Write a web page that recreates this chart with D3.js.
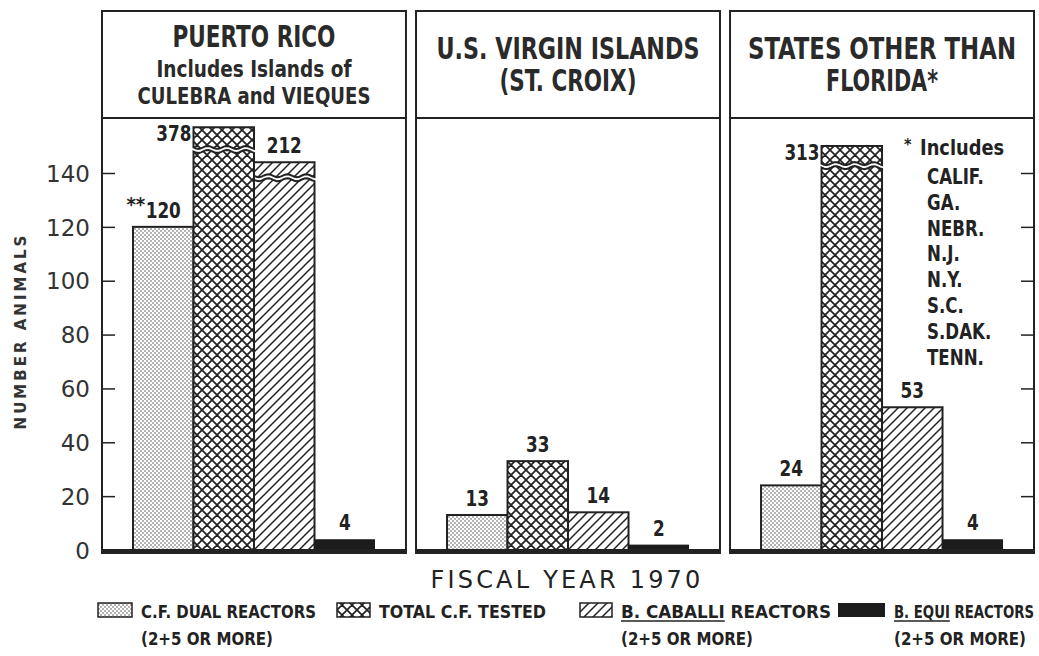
<!DOCTYPE html>
<html>
<head>
<meta charset="utf-8">
<script src="https://cdn.jsdelivr.net/npm/d3@7"></script>
<style>
  body { margin: 0; background: #fff; }
  svg { display: block; }
</style>
</head>
<body>
<div id="canvas"></div>
<script>
// values
const regions = ["PUERTO RICO", "U.S. VIRGIN ISLANDS", "STATES OTHER THAN FLORIDA"];
const series = ["C.F. DUAL REACTORS", "TOTAL C.F. TESTED", "B. CABALLI REACTORS", "B. EQUI REACTORS"];
const puertoRico = [120, 378, 212, 4];
const virginIslands = [13, 33, 14, 2];
const otherStates = [24, 313, 53, 4];
// bars too tall for the axis are cut: main part ends at breakAt, short cap piece goes up to capTop
const breakAt = [[null, 148, 137.5, null], [null, null, null, null], [null, 142, null, null]];
const capTop = [[null, 157, 144, null], [null, null, null, null], [null, 150, null, null]];
const yTicks = [0, 20, 40, 60, 80, 100, 120, 140];
const headerLines = [
  ["PUERTO RICO", "Includes Islands of", "CULEBRA and VIEQUES"],
  ["U.S. VIRGIN ISLANDS", "(ST. CROIX)"],
  ["STATES OTHER THAN", "FLORIDA*"]
];
const includedStates = ["CALIF.", "GA.", "NEBR.", "N.J.", "N.Y.", "S.C.", "S.DAK.", "TENN."];
const legendSub = ["(2+5 OR MORE)", "", "(2+5 OR MORE)", "(2+5 OR MORE)"];
const legendUnderline = ["", "", "B. CABALLI", "B. EQUI"];

const values = [puertoRico, virginIslands, otherStates];

const width = 1039, height = 656;
const ink = "#222";
const narrow = "'DejaVu Sans Condensed', 'DejaVu Sans', sans-serif";
const wide = "'DejaVu Sans', Verdana, sans-serif";

const frameTop = 11, headerBottom = 118;
// text widths measured on the original print
const headerW = [[163, 195, 233], [263, 137], [268, 112]];
const legendW = [175, 167, 210, 140];
const legendSubW = 132;

const svg = d3.select("#canvas").append("svg")
  .attr("width", width).attr("height", height);

function fit(sel, w) {
  return sel.attr("textLength", w).attr("lengthAdjust", "spacingAndGlyphs");
}
function squeeze(sel, f) {
  return fit(sel, sel.node().getComputedTextLength() * f);
}

// fill patterns
const defs = svg.append("defs");
const dots = defs.append("pattern").attr("id", "pat0")
  .attr("patternUnits", "userSpaceOnUse").attr("width", 4).attr("height", 4);
dots.append("rect").attr("width", 4).attr("height", 4).attr("fill", "#fff");
dots.append("circle").attr("cx", 1).attr("cy", 1).attr("r", 0.8).attr("fill", "#555");
dots.append("circle").attr("cx", 3).attr("cy", 3).attr("r", 0.8).attr("fill", "#555");

const cross = defs.append("pattern").attr("id", "pat1")
  .attr("patternUnits", "userSpaceOnUse").attr("width", 10).attr("height", 10);
cross.append("rect").attr("width", 10).attr("height", 10).attr("fill", "#fff");
cross.append("path")
  .attr("d", "M0,0L10,10M10,0L0,10M-5,5L5,15M5,-5L15,5M-5,5L5,-5M5,15L15,5")
  .attr("stroke", ink).attr("stroke-width", 1.7);

const hatch = defs.append("pattern").attr("id", "pat2")
  .attr("patternUnits", "userSpaceOnUse").attr("width", 9).attr("height", 9);
hatch.append("rect").attr("width", 9).attr("height", 9).attr("fill", "#fff");
hatch.append("path")
  .attr("d", "M0,9L9,0M-2,2L2,-2M7,11L11,7")
  .attr("stroke", ink).attr("stroke-width", 1.5);

const fills = ["url(#pat0)", "url(#pat1)", "url(#pat2)", "#1c1c1c"];

// scales
const y = d3.scaleLinear().domain([0, 140]).range([550, 173]);
const px = d3.scaleBand().domain(d3.range(regions.length)).range([102, 1034]).paddingInner(0.032);
const bx = d3.scaleBand().domain(d3.range(series.length)).range([31, 273]);

function wavy(x0, x1, yy, amp) {
  const n = 24;
  return d3.range(n + 1).map(k => {
    const x = x0 + (x1 - x0) * k / n;
    return [x, yy + amp * Math.sin((x - x0) / 9.5 * Math.PI)];
  });
}
const line = d3.line();

regions.forEach((r, p) => {
  const g = svg.append("g").attr("transform", `translate(${px(p)},0)`);
  const pw = px.bandwidth();

  // frame + header
  g.append("rect").attr("x", 0).attr("y", frameTop)
    .attr("width", pw).attr("height", y(0) - frameTop)
    .attr("fill", "none").attr("stroke", ink).attr("stroke-width", 2);
  g.append("line").attr("x1", 0).attr("x2", pw)
    .attr("y1", headerBottom).attr("y2", headerBottom)
    .attr("stroke", ink).attr("stroke-width", 2);

  const lines = headerLines[p];
  const base = lines.length === 3 ? [47, 77, 104] : [59, 91];
  lines.forEach((t, k) => {
    const ht = g.append("text").attr("x", pw / 2).attr("y", base[k])
      .attr("text-anchor", "middle")
      .attr("font-family", narrow).attr("font-weight", "bold")
      .attr("font-size", k === 0 || lines.length === 2 ? 30 : 23)
      .attr("fill", "#2a2a2a").text(t);
    fit(ht, headerW[p][k]);
  });

  // bars
  values[p].forEach((v, i) => {
    const x0 = bx(i), x1 = bx(i) + bx.bandwidth();
    const cut = breakAt[p][i];
    if (cut != null) {
      const top = y(cut);
      const mainPts = [[x0, y(0)], ...wavy(x0, x1, top, 1.5), [x1, y(0)]];
      g.append("path").attr("d", line(mainPts) + "Z")
        .attr("fill", fills[i]).attr("stroke", ink).attr("stroke-width", 2);
      const capPts = [[x0, y(capTop[p][i])], [x1, y(capTop[p][i])], ...wavy(x0, x1, top - 4, 1.5).reverse()];
      g.append("path").attr("d", line(capPts) + "Z")
        .attr("fill", fills[i]).attr("stroke", ink).attr("stroke-width", 2);
    } else {
      g.append("rect").attr("x", x0).attr("y", y(v))
        .attr("width", bx.bandwidth()).attr("height", y(0) - y(v))
        .attr("fill", fills[i]).attr("stroke", ink).attr("stroke-width", i === 3 ? 0 : 2);
    }

    // value labels
    const lab = g.append("text")
      .attr("font-family", narrow).attr("font-weight", "bold")
      .attr("font-size", 22).attr("fill", ink).text(v);
    if (cut != null && i === 1) {
      lab.attr("x", x0 - 2).attr("y", y(capTop[p][i]) + 14).attr("text-anchor", "end");
    } else {
      const topV = cut != null ? capTop[p][i] : v;
      lab.attr("x", (x0 + x1) / 2).attr("y", y(topV) - 9).attr("text-anchor", "middle");
    }
    squeeze(lab, 0.85);
    if (p === 0 && i === 0) {
      g.append("text").attr("x", (x0 + x1) / 2 - 18).attr("y", y(v) - 16)
        .attr("text-anchor", "end").attr("font-family", narrow).attr("font-weight", "bold")
        .attr("font-size", 20).attr("fill", ink).text("**");
    }
  });

  // thick baseline
  g.append("line").attr("x1", -1).attr("x2", pw + 1)
    .attr("y1", y(0) + 1.5).attr("y2", y(0) + 1.5)
    .attr("stroke", ink).attr("stroke-width", 5);
});

// y axis on the left of the first panel, ticks pointing inward
const leftAxis = svg.append("g").attr("transform", `translate(${px(0)},0)`)
  .call(d3.axisLeft(y).tickValues(yTicks).tickSizeInner(-13).tickSizeOuter(0).tickPadding(12));
leftAxis.select(".domain").remove();
leftAxis.selectAll(".tick line").attr("stroke", ink).attr("stroke-width", 1.5);
leftAxis.selectAll(".tick text").attr("font-family", wide).attr("font-size", 23)
  .attr("fill", "#333").attr("dy", "0.36em");

const rightAxis = svg.append("g").attr("transform", `translate(${px(2) + px.bandwidth()},0)`)
  .call(d3.axisRight(y).tickValues(yTicks.slice(1)).tickSizeInner(-13).tickSizeOuter(0).tickFormat(""));
rightAxis.select(".domain").remove();
rightAxis.selectAll(".tick line").attr("stroke", ink).attr("stroke-width", 1.5);

svg.append("text")
  .attr("transform", `translate(26,${331}) rotate(-90)`)
  .attr("text-anchor", "middle").attr("font-family", wide).attr("font-weight", "bold")
  .attr("font-size", 15).attr("letter-spacing", 3).attr("fill", "#333")
  .text("NUMBER ANIMALS");

// footnote list in third panel
const note = svg.append("g").attr("transform", `translate(${px(2)},0)`);
note.append("text").attr("x", 174).attr("y", 150)
  .attr("font-family", narrow).attr("font-weight", "bold").attr("font-size", 16)
  .attr("fill", ink).text("*");
squeeze(note.append("text").attr("x", 190).attr("y", 155)
  .attr("font-family", narrow).attr("font-weight", "bold").attr("font-size", 22)
  .attr("fill", ink).text("Includes"), 0.9);
includedStates.forEach((s, k) => {
  squeeze(note.append("text").attr("x", 197).attr("y", 184 + k * 25.8)
    .attr("font-family", narrow).attr("font-weight", "bold").attr("font-size", 21)
    .attr("fill", ink).text(s), 0.88);
});

// x title
svg.append("text").attr("x", 567).attr("y", 588)
  .attr("text-anchor", "middle").attr("font-family", wide)
  .attr("font-size", 24).attr("letter-spacing", 3.2).attr("fill", "#222")
  .text("FISCAL YEAR 1970");

// legend
const legendX = [98, 337, 580, 838];
const swatchW = [34, 33, 32, 47];
series.forEach((s, i) => {
  const lg = svg.append("g").attr("transform", `translate(${legendX[i]},0)`);
  lg.append("rect").attr("x", 0).attr("y", 603).attr("width", swatchW[i]).attr("height", 14)
    .attr("fill", fills[i]).attr("stroke", ink).attr("stroke-width", i === 3 ? 0 : 1.5);
  const tx = swatchW[i] + 9;
  const t = lg.append("text").attr("x", tx).attr("y", 618)
    .attr("font-family", narrow).attr("font-weight", "bold").attr("font-size", 17)
    .attr("fill", ink).text(s);
  fit(t, legendW[i]);
  if (legendUnderline[i]) {
    const w = t.node().getSubStringLength(0, legendUnderline[i].length);
    lg.append("line").attr("x1", tx).attr("x2", tx + w)
      .attr("y1", 621).attr("y2", 621).attr("stroke", ink).attr("stroke-width", 1.3);
  }
  if (legendSub[i]) {
    fit(lg.append("text").attr("x", tx).attr("y", 645)
      .attr("font-family", narrow).attr("font-weight", "bold").attr("font-size", 17)
      .attr("fill", ink).text(legendSub[i]), legendSubW);
  }
});
</script>
</body>
</html>
